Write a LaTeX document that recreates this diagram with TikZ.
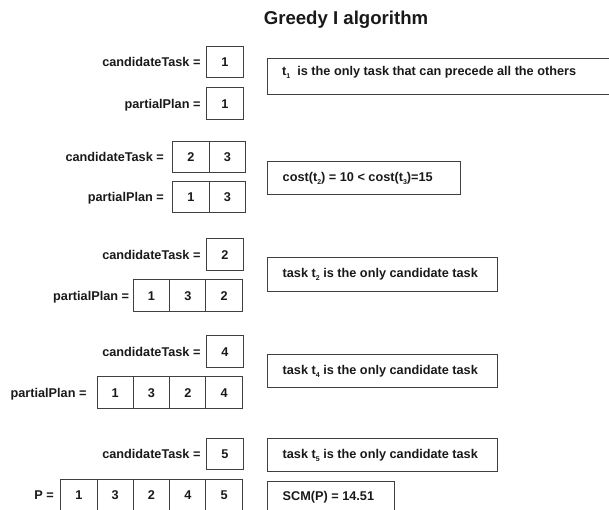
\documentclass[tikz,border=0pt]{standalone}
\usepackage{fontspec}
\setmainfont{Liberation Sans}
\newcommand\tsub[1]{\raisebox{-0.45ex}{\fontsize{7}{7}\selectfont #1}}
\begin{document}
\begin{tikzpicture}[x=1pt,y=-1pt,
  every node/.style={font=\fontsize{12.7}{15}\selectfont\bfseries, inner sep=0pt, text=black!90, text height=9.1pt, text depth=0pt},
  cell/.style={draw=black!75, line width=1pt, minimum width=36.3pt, minimum height=31.3pt},
  tbox/.style={draw=black!75, line width=1pt, anchor=north west},
  lbl/.style={anchor=east},
  txt/.style={anchor=west}]
\useasboundingbox (0,0) rectangle (609,510);
\clip (0,0) rectangle (609,510);

\node[font=\fontsize{18.6}{22}\selectfont\bfseries, text height=13.3pt] (title) at (346,17.5) {Greedy I algorithm};

% Row 1
\node[lbl] (c1l) at (200.7,61.7) {candidateTask =};
\node[cell, minimum width=36.8pt] (c1) at (224.9,61.7) {1};
\node[lbl] (p1l) at (200.7,103.5) {partialPlan =};
\node[cell, minimum width=36.8pt] (p1) at (224.9,103.5) {1};
\node[tbox, minimum width=400pt, minimum height=36pt] (b1) at (266.8,58.3) {};
\node[txt] (b1t) at (282,70.5) {t\tsub{1}\ \ is the only task that can precede all the others};

% Row 2
\node[lbl] (c2l) at (164,157.2) {candidateTask =};
\node[cell, minimum width=36.4pt] (c2a) at (190.9,157.2) {2};
\node[cell, minimum width=36.4pt] (c2b) at (227.3,157.2) {3};
\node[lbl] (p2l) at (164,197) {partialPlan =};
\node[cell, minimum width=36.4pt] (p2a) at (190.9,197) {1};
\node[cell, minimum width=36.4pt] (p2b) at (227.3,197) {3};
\node[tbox, minimum width=193.6pt, minimum height=32.7pt] (b2) at (266.7,161) {};
\node[txt] (b2t) at (282.5,176.7) {cost(t\tsub{2}) = 10 < cost(t\tsub{3})=15};

% Row 3
\node[lbl] (c3l) at (200.7,254.5) {candidateTask =};
\node[cell, minimum width=36.8pt] (c3) at (224.9,254.5) {2};
\node[lbl] (p3l) at (129.3,295.5) {partialPlan =};
\node[cell] (p3a) at (151.5,295.5) {1};
\node[cell] (p3b) at (187.8,295.5) {3};
\node[cell] (p3c) at (224.1,295.5) {2};
\node[tbox, minimum width=230pt, minimum height=33.4pt] (b3) at (266.7,257.3) {};
\node[txt] (b3t) at (282.5,273.3) {task t\tsub{2} is the only candidate task};

% Row 4
\node[lbl] (c4l) at (200.7,351.5) {candidateTask =};
\node[cell, minimum width=36.8pt] (c4) at (224.9,351.5) {4};
\node[lbl] (p4l) at (86.7,392.5) {partialPlan =};
\node[cell] (p4a) at (115.2,392.5) {1};
\node[cell] (p4b) at (151.5,392.5) {3};
\node[cell] (p4c) at (187.8,392.5) {2};
\node[cell] (p4d) at (224.1,392.5) {4};
\node[tbox, minimum width=230pt, minimum height=33.3pt] (b4) at (266.7,354) {};
\node[txt] (b4t) at (282.5,369.5) {task t\tsub{4} is the only candidate task};

% Row 5
\node[lbl] (c5l) at (200.7,453.8) {candidateTask =};
\node[cell, minimum width=36.8pt] (c5) at (224.9,453.8) {5};
\node[lbl] (pl) at (54,494.8) {P =};
\node[cell] (pa) at (78.9,494.8) {1};
\node[cell] (pb) at (115.2,494.8) {3};
\node[cell] (pc) at (151.5,494.8) {2};
\node[cell] (pd) at (187.8,494.8) {4};
\node[cell] (pe) at (224.1,494.8) {5};
\node[tbox, minimum width=230pt, minimum height=33pt] (b5) at (266.7,438) {};
\node[txt] (b5t) at (282.5,453.5) {task t\tsub{5} is the only candidate task};
\node[tbox, minimum width=127pt, minimum height=34pt] (b6) at (266.7,481) {};
\node[txt] (b6t) at (282.5,496) {SCM(P) = 14.51};
\end{tikzpicture}
\end{document}
